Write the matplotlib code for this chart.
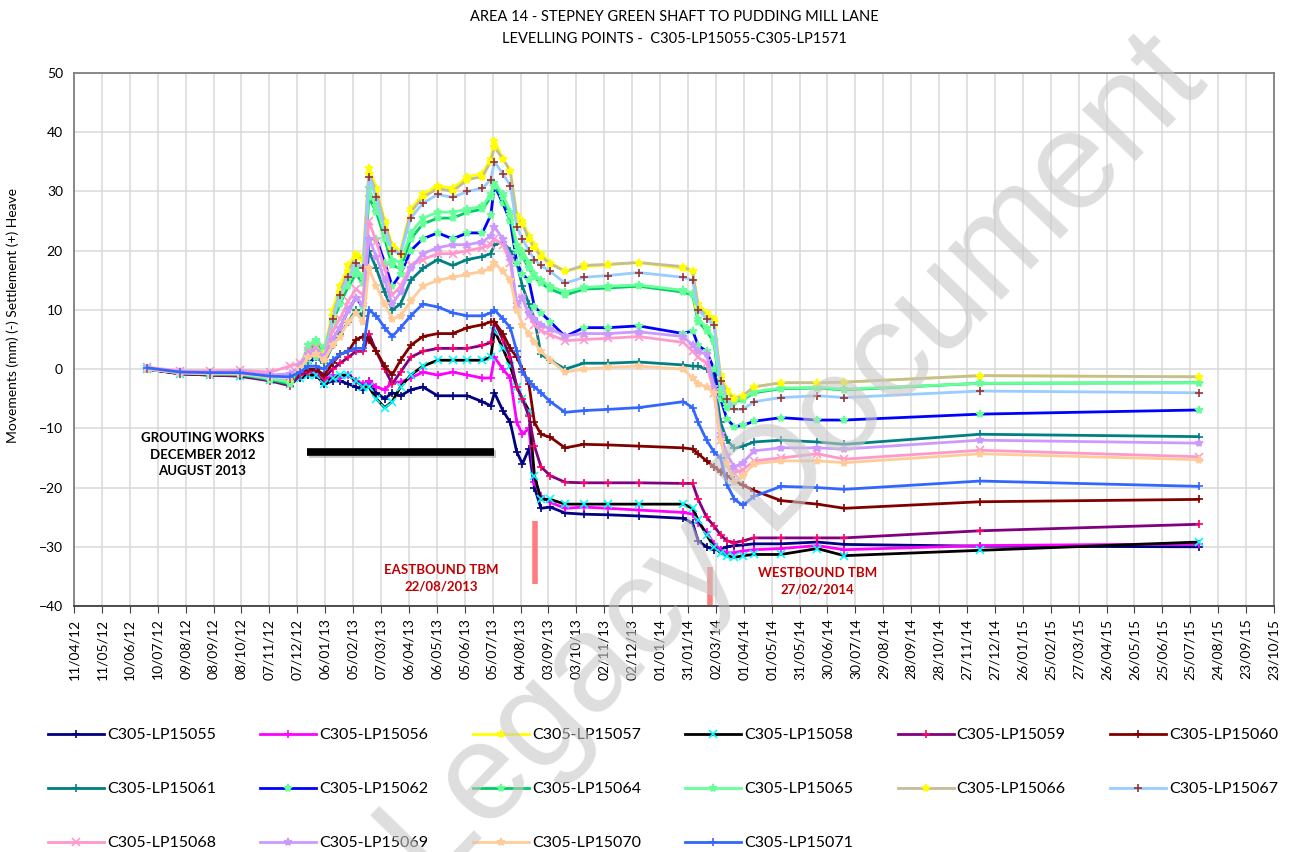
import numpy as np
import pandas as pd
import matplotlib
matplotlib.use("Agg")
import matplotlib.pyplot as plt
from matplotlib.lines import Line2D
import matplotlib.dates as mdates

plt.rcParams['font.family'] = ['Lato', 'DejaVu Sans']

TITLE = "AREA 14 - STEPNEY GREEN SHAFT TO PUDDING MILL LANE\nLEVELLING POINTS -  C305-LP15055-C305-LP1571"
Y_LABEL = "Movements (mm) (-) Settlement (+) Heave"

DATES = ["2012-06-29", "2012-08-03", "2012-09-04", "2012-10-06", "2012-11-08", "2012-11-29",
         "2012-12-10", "2012-12-19", "2012-12-27", "2013-01-05", "2013-01-14", "2013-01-22",
         "2013-01-31", "2013-02-08", "2013-02-16", "2013-02-22", "2013-03-02", "2013-03-11",
         "2013-03-19", "2013-03-28", "2013-04-08", "2013-04-21", "2013-05-07", "2013-05-23",
         "2013-06-08", "2013-06-24", "2013-07-03", "2013-07-07", "2013-07-16", "2013-07-24",
         "2013-07-31", "2013-08-06", "2013-08-13", "2013-08-19", "2013-08-26", "2013-09-05",
         "2013-09-21", "2013-10-11", "2013-11-06", "2013-12-09", "2014-01-26", "2014-02-05",
         "2014-02-11", "2014-02-20", "2014-02-28", "2014-03-07", "2014-03-14", "2014-03-22",
         "2014-03-31", "2014-04-12", "2014-05-11", "2014-06-19", "2014-07-18", "2014-12-11",
         "2015-08-03"]

LP15055 = [0, -0.7, -0.9, -1, -1.6, -2.3, -1.5, -1, -1, -2.5, -2, -2, -2.5, -3, -3.5, -2, -4, -5,
           -4, -4.5, -3.5, -3, -4.5, -4.5, -4.5, -5.5, -6.2, -4, -7, -9, -14, -16, -13.5, -20,
           -23.5, -23.3, -24.3, -24.5, -24.6, -24.8, -25.2, -26, -29, -30, -30.5, -30.5, -30,
           -29.8, -29.7, -29.5, -29.5, -29.2, -29.6, -29.9, -30]
LP15056 = [0, -0.7, -0.9, -1, -1.6, -2.2, -1, -0.5, -0.5, -2, -1, -1.5, -1, -2, -2.5, -2, -3, -3.5,
           -2.2, -2.2, -1.5, -0.5, -1, -0.5, -1, -1.5, -1.5, 2, 0, -1.5, -9, -11, -10, -19,
           -21.5, -22.5, -23.5, -23.3, -23.5, -23.8, -24.2, -24.5, -26, -27.5, -29.5, -30.5, -31,
           -31, -30.7, -30.5, -30.3, -29.8, -30.5, -29.8, -29.5]
LP15057 = [0, -0.5, -0.7, -0.6, -1.2, -1.5, 0.5, 3, 3.5, 3, 10, 14, 17.5, 19.5, 19, 34, 30.5, 25,
           21, 20, 27, 29.5, 31, 30.5, 32.5, 33, 35.5, 38.5, 35.5, 33.5, 26, 25, 22.5, 21, 19.5,
           18, 16.5, 17.3, 17.6, 18, 17, 16.5, 11, 9.5, 8.5, -1, -3.5, -4.8, -4.5, -3, -2.3,
           -2.3, -2.2, -1.1, -1.3]
LP15058 = [0, -0.8, -1, -1.1, -1.8, -2.5, -1.5, -1, -1, -2.5, -1.5, -1, -1, -2, -3, -3, -5, -6.5,
           -5.5, -3, -1, 0.5, 1.5, 1.5, 1.5, 1.5, 2, 6.5, 3.5, 0.5, -3, -5, -7, -18, -22, -22,
           -22.8, -22.8, -22.8, -22.8, -22.8, -23.5, -25.5, -28, -30, -31, -31.5, -31.8, -31.5,
           -31.3, -31.3, -30.3, -31.5, -30.6, -29.2]
LP15059 = [0, -0.8, -1, -1.2, -2, -2.8, -1, -0.5, 0, -1.5, 0, 1, 2, 3, 3, 6, 3, 0, -2.5, -0.5, 2,
           3, 3.5, 3.5, 3.5, 4, 4.5, 8, 5, 2, -3, -5, -8, -13, -16.5, -18, -19.1, -19.2, -19.2,
           -19.2, -19.3, -19.3, -22, -25, -26.5, -28, -29, -29.3, -29, -28.5, -28.5, -28.5,
           -28.5, -27.3, -26.2]
LP15060 = [0, -0.7, -0.9, -1, -1.6, -2.2, -0.5, 0, 0, -1, 1, 2.5, 3, 5, 5.5, 5, 3, 0.5, -1, 1.5,
           4, 5.5, 6, 6, 7, 7.5, 8, 8, 6, 3.5, 2, 0, -2.5, -9, -11, -11.5, -13.3, -12.7, -12.8,
           -13, -13.3, -13.5, -14.3, -15.5, -16.5, -17.3, -18, -18.8, -19.6, -20.5, -22.2, -22.8,
           -23.5, -22.4, -22]
LP15061 = [0, -0.7, -0.9, -1, -1.7, -2.2, 0, 1, 2, 1, 4, 6, 8, 10, 9, 20, 17, 13, 10, 11, 15, 17,
           18.5, 17.5, 18.5, 19, 19.5, 21, 21.5, 20, 18, 14, 11, 8.5, 2.5, 1.5, 0, 1, 1, 1.2,
           0.7, 0.5, 0.5, 0, -1, -9, -12, -13.4, -13, -12.3, -12, -12.3, -12.7, -11, -11.4]
LP15062 = [0, -0.6, -0.8, -0.8, -1.5, -1.8, 0, 1, 2, 1.5, 5, 7, 10, 12, 10.5, 22, 22, 18, 14, 16,
           20, 22, 23, 22, 23, 23, 26, 31, 28, 25, 18, 16, 15, 10.5, 9.5, 8, 5.5, 7, 7, 7.3, 6,
           6.5, 4, 3, 0, -5, -8.5, -9.7, -9.5, -8.8, -8.2, -8.6, -8.6, -7.6, -6.9]
LP15064 = [0, -0.6, -0.8, -0.9, -1.8, -2.5, 0, 3, 4.5, 3, 8, 11, 14, 16, 14.5, 29, 26.5, 22, 17.5,
           17, 22, 24.5, 25.5, 25.5, 26.5, 27, 29, 31, 29, 26, 20, 19, 17, 15.5, 14.5, 13.5, 12.5,
           13.5, 13.7, 14, 13, 12.5, 8, 6.5, 4.5, -4, -6.5, -5.5, -5.2, -4, -3.3, -3.2, -3.5,
           -2.4, -2.3]
LP15065 = [0, -0.5, -0.7, -0.8, -1.6, -2.2, 0.5, 4, 5, 3.5, 8.5, 12, 15, 17, 15.5, 30.5, 27.5, 23,
           18.5, 18, 23, 25.5, 26.5, 26.5, 27, 27.5, 29.5, 31.5, 29.5, 26.5, 21, 20, 18, 16, 15,
           14, 13, 13.8, 14, 14.2, 13.3, 12.8, 8.5, 7, 5, -3.5, -6, -5.3, -5, -3.8, -3.2, -3.1,
           -3.4, -2.4, -2.3]
LP15066 = [0, -0.6, -0.8, -0.7, -1.3, -1.6, 0.3, 2.5, 3, 2.5, 9, 13, 16.5, 19, 18.5, 33, 30, 24.5,
           20.5, 19.5, 26.5, 29, 30.5, 30, 32, 32.5, 35, 37.5, 35.5, 33.5, 25.5, 24.5, 22, 20.5,
           19, 17.8, 16.5, 17.5, 17.7, 18, 17.3, 16.5, 10.5, 9, 8, -1.5, -4, -5, -4.5, -3, -2.3,
           -2.3, -2.2, -1.1, -1.3]
LP15067 = [0, -0.6, -0.8, -0.8, -1.4, -1.7, 0, 2, 3, 2, 8.5, 12.5, 15.5, 18, 17, 32.5, 29, 23.5,
           20, 19.5, 25.5, 28, 29.5, 29, 30, 30.5, 32, 35, 33, 31, 24, 22, 20, 18.5, 17.5, 16.5,
           14.5, 15.5, 15.8, 16.3, 15.5, 15, 10, 8.5, 7.5, -2, -5, -6.8, -6.8, -5.5, -4.8, -4.5,
           -4.8, -3.7, -4.0]
LP15068 = [0.3, -0.3, -0.3, -0.2, -0.5, 0.5, 1, 3, 3.5, 2, 6.5, 8.5, 11.5, 13.5, 12.5, 25, 21.5,
           17, 12.5, 14, 17.5, 18.5, 19.5, 19.5, 20, 20.5, 21, 22, 21, 18, 11, 12, 9, 7.5, 6.5,
           5.8, 4.8, 5, 5.2, 5.5, 4.5, 3, 2, 1, -4, -12, -16, -17.5, -17, -15.5, -15, -14.3,
           -15.2, -13.7, -14.8]
LP15069 = [0, -0.5, -0.6, -0.5, -1.0, -0.8, 0.5, 2.5, 3, 2, 5, 7, 10, 12, 11, 22, 19, 15, 11, 13,
           17, 19.5, 20.5, 21, 21, 21.5, 22.5, 24, 22, 19, 11, 12, 9.5, 8.5, 7.5, 6.8, 5.6, 6, 6,
           6.3, 5.5, 4, 3, 2.5, -3, -11, -14.5, -16.5, -15.8, -13.8, -13.3, -13.3, -13.5, -12,
           -12.5]
LP15070 = [0, -0.6, -0.8, -0.8, -1.3, -1.5, 0, 2, 2.5, 1.5, 4, 5.5, 8, 9.5, 8, 17, 14, 11, 8.5, 9,
           11.5, 14, 15, 15.5, 16, 16.5, 17, 18, 16.5, 15, 10, 7.5, 6, 4.5, 3, 1.5, -0.5, 0, 0.3,
           0.5, 0, -1.5, -2.5, -3, -4, -12, -16, -19, -18, -16, -15.5, -15.5, -15.8, -14.3,
           -15.3]
LP15071 = [0.2, -0.5, -0.6, -0.6, -1.2, -1.3, -0.5, 0.5, 0.5, 0, 1.5, 2.5, 3, 3.5, 3.5, 10, 9, 7,
           5.5, 7, 9, 11, 10.5, 9.5, 9, 9, 9.5, 10, 8.5, 7, 3, -0.5, -2, -3, -4, -5.5, -7.3, -7,
           -6.8, -6.5, -5.5, -6.5, -9, -12, -14, -15, -19.5, -22, -23, -21.5, -19.8, -20, -20.3,
           -18.9, -19.8]

NAMES = ["C305-LP15055", "C305-LP15056", "C305-LP15057", "C305-LP15058", "C305-LP15059",
         "C305-LP15060", "C305-LP15061", "C305-LP15062", "C305-LP15064", "C305-LP15065",
         "C305-LP15066", "C305-LP15067", "C305-LP15068", "C305-LP15069", "C305-LP15070",
         "C305-LP15071"]
VALUES = [LP15055, LP15056, LP15057, LP15058, LP15059, LP15060, LP15061, LP15062, LP15064,
          LP15065, LP15066, LP15067, LP15068, LP15069, LP15070, LP15071]
LINE_COLORS = ["#000080", "#FF00FF", "#FFFF00", "#000000", "#800080", "#800000", "#008080",
               "#0000FF", "#00CC66", "#66FF99", "#C4BD97", "#99CCFF", "#FF99CC", "#CC99FF",
               "#FFCC99", "#3366FF"]
MARKERS = ["+", "+", "*", "x", "+", "+", "+", "*", "*", "*", "*", "+", "x", "*", "*", "+"]
MARKER_COLORS = ["#000080", "#FF00FF", "#FFFF00", "#00FFFF", "#FF0066", "#800000", "#008080",
                 "#66FF99", "#66FF99", "#66FF99", "#FFFF00", "#993333", "#FF99CC", "#CC99FF",
                 "#FFCC99", "#3366FF"]

AXIS_START, AXIS_END, TICK_STEP_DAYS = "2012-04-11", "2015-10-23", 30
Y_TICKS = [-40, -30, -20, -10, 0, 10, 20, 30, 40, 50]

W, H = 1293, 852
fig = plt.figure(figsize=(W / 100, H / 100), dpi=100)
ax = fig.add_axes([74 / W, 1 - 606 / H, 1200 / W, 533 / H])

x = pd.to_datetime(DATES)
handles = []
for name, vals, lc, mk, mc in zip(NAMES, VALUES, LINE_COLORS, MARKERS, MARKER_COLORS):
    ln, = ax.plot(x, vals, color=lc, lw=2.0, marker=mk, ms=6, mec=mc, mfc=mc, mew=1.2,
                  label=name, zorder=3)
    handles.append(ln)

ticks = pd.date_range(AXIS_START, AXIS_END, freq=f"{TICK_STEP_DAYS}D")
ax.set_xlim(pd.Timestamp(AXIS_START), pd.Timestamp(AXIS_END))
ax.set_xticks(ticks)
ax.set_xticklabels([t.strftime("%d/%m/%y") for t in ticks], rotation=90, fontsize=10)
ax.set_ylim(-40, 50)
ax.set_yticks(Y_TICKS)
ax.tick_params(axis='y', labelsize=10, length=0, pad=8)
ax.tick_params(axis='x', length=5, color='#404040', pad=4)
ax.grid(True, color='#D9D9D9', lw=1.1, zorder=0)
ax.set_axisbelow(True)
for s in ax.spines.values():
    s.set_color('#808080')
    s.set_linewidth(1.3)
ax.spines['bottom'].set_color('#404040')

ax.set_ylabel(Y_LABEL, fontsize=10, labelpad=6)
ax.yaxis.set_label_coords(-0.046, 0.545)
fig.text(674 / W, 1 - 28 / H, TITLE, ha='center', va='center', fontsize=10.5, linespacing=1.75)

# grouting works annotation
ax.plot([pd.Timestamp("2012-12-20"), pd.Timestamp("2013-07-09")], [-14.4, -14.4],
        color='#A0A0A0', lw=5.5, solid_capstyle='butt', zorder=4, alpha=0.6)
ax.plot([pd.Timestamp("2012-12-18"), pd.Timestamp("2013-07-07")], [-14, -14],
        color='black', lw=5.5, solid_capstyle='butt', zorder=5)
ax.text(pd.Timestamp("2012-08-27"), -14.5, "GROUTING WORKS\nDECEMBER 2012\nAUGUST 2013",
        ha='center', va='center', fontsize=9.5, fontweight='bold', linespacing=1.45, zorder=6)
ax.plot([pd.Timestamp("2013-08-20")] * 2, [-25.7, -36.3], color='#FF7C80', lw=4,
        solid_capstyle='butt', zorder=5)
ax.text(pd.Timestamp("2013-05-11"), -35.3, "EASTBOUND TBM\n22/08/2013", ha='center', va='center',
        fontsize=9.5, fontweight='bold', color='#C00000', linespacing=1.45, zorder=6)
ax.plot([pd.Timestamp("2014-02-24")] * 2, [-33.4, -39.8], color='#FF7C80', lw=4,
        solid_capstyle='butt', zorder=5)
ax.text(pd.Timestamp("2014-06-19"), -35.9, "WESTBOUND TBM\n27/02/2014", ha='center', va='center',
        fontsize=9.5, fontweight='bold', color='#C00000', linespacing=1.45, zorder=6)

# legend (row-wise order as in reference)
order = []
ncol = 6
nrow = 3
for c in range(ncol):
    for r in range(nrow):
        i = r * ncol + c
        if i < len(handles):
            order.append(i)
fig.legend([handles[i] for i in order], [NAMES[i] for i in order], loc='upper left',
           bbox_to_anchor=(48 / W, 1 - 728 / H), ncol=ncol, frameon=False, fontsize=11.5,
           handlelength=3.5, handletextpad=0.2, columnspacing=2.77, labelspacing=2.5,
           borderpad=0, borderaxespad=0, numpoints=1)

# watermark
fig.text(795 / W, 1 - 462 / H, "Legacy Document", rotation=46, rotation_mode='anchor',
         ha='center', va='center', fontsize=100, color='#C8C8C8', alpha=0.6,
         family='Liberation Sans', zorder=20)

fig.savefig("out.png", dpi=100)
